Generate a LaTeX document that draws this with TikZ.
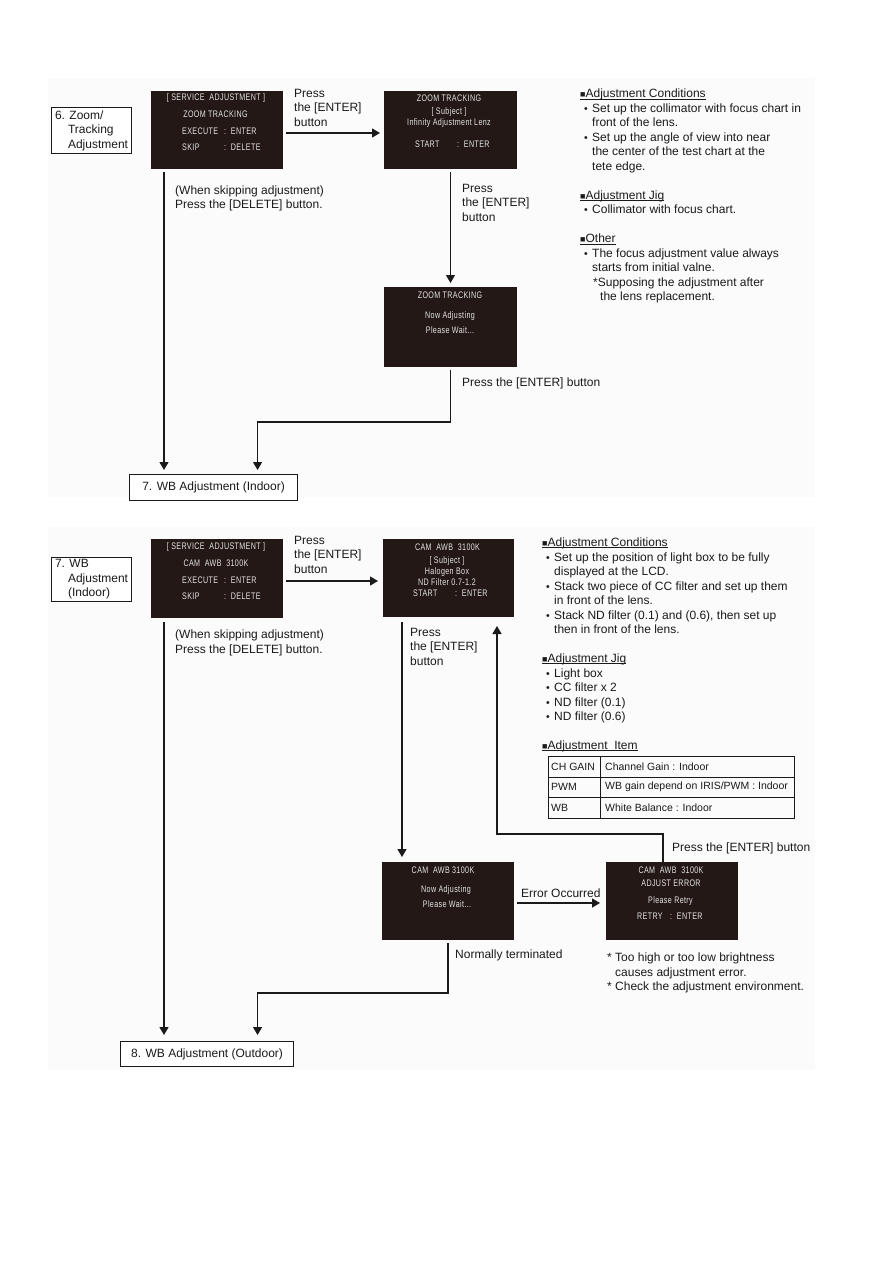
\documentclass[tikz,border=0pt]{standalone}
\usepackage{fontspec}
\setmainfont{Liberation Sans}
\newfontfamily\lcdfont[FakeStretch=0.75,LetterSpace=4]{Liberation Sans}
\usetikzlibrary{arrows.meta}
\definecolor{lcdbg}{HTML}{231815}
\definecolor{lcdfg}{HTML}{E4E4E4}
\definecolor{ink}{HTML}{1A1A1A}
\definecolor{panel}{HTML}{FBFBFB}
\newcommand{\mybul}{\hspace*{4pt}\makebox[8pt][l]{\fontsize{10.5}{10}\selectfont•}}
\newcommand{\mycont}{\hspace*{12pt}}
\newcommand{\myhead}[1]{\setbox0\hbox{{\fontsize{9}{9}\selectfont■}#1}\rlap{\rule[-1.6pt]{\wd0}{0.7pt}}\box0}
\begin{document}
\begin{tikzpicture}[x=1pt,y=-1pt,
  screen/.style={fill=lcdbg,draw=none,inner sep=0pt,outer sep=0pt,anchor=north west,minimum width=132pt,minimum height=78pt},
  lcdtxt/.style={text=lcdfg,font=\lcdfont\fontsize{9.5}{10}\selectfont,inner sep=0pt},
  lcdkey/.style={lcdtxt,anchor=west},
  txt/.style={font=\fontsize{12}{14.5}\selectfont,inner sep=0pt,anchor=north west,align=left,text=ink},
  box/.style={draw=ink,line width=1.1pt,fill=white,inner sep=0pt,anchor=north west,font=\fontsize{12}{14.5}\selectfont,align=left,text=ink},
  arr/.style={draw=ink,line width=1.3pt,-{Triangle[length=8pt,width=9pt]}},
  tbl/.style={draw=ink,line width=0.8pt},
  tbltxt/.style={font=\fontsize{10.5}{12}\selectfont,inner sep=0pt,anchor=west,text=ink}]
\useasboundingbox (0,0) rectangle (893,1263);
\fill[panel] (48,78) rectangle (815,497);
\fill[panel] (48,527) rectangle (815,1070);

% ---------- top section ----------
\node[box,minimum width=80pt,minimum height=46pt] (b6) at (51,107) {6. Zoom/\\\hspace*{13pt}Tracking\\\hspace*{13pt}Adjustment};

\node[screen] (s1) at (151,91) {};
\node[lcdtxt] (s1a) at (216,98) {[ SERVICE\ \ ADJUSTMENT ]};
\node[lcdtxt] (s1b) at (215.5,114) {ZOOM TRACKING};
\node[lcdkey] (s1c) at (182,131) {EXECUTE};
\node[lcdkey] (s1d) at (224,131) {:\ \ ENTER};
\node[lcdkey] (s1e) at (182,147) {SKIP};
\node[lcdkey] (s1f) at (224,147) {:\ \ DELETE};

\node[screen,minimum width=133pt] (s2) at (384,91) {};
\node[lcdtxt] (s2a) at (449,98) {ZOOM TRACKING};
\node[lcdtxt] (s2b) at (449,112) {[ Subject ]};
\node[lcdtxt] (s2c) at (449,123) {Infinity Adjustment Lenz};
\node[lcdkey] (s2d) at (415,144) {START};
\node[lcdkey] (s2e) at (457,144) {:\ \ ENTER};

\node[screen,minimum width=133pt,minimum height=80pt] (s3) at (384,287) {};
\node[lcdtxt] (s3a) at (450,295) {ZOOM TRACKING};
\node[lcdtxt] (s3b) at (450,316) {Now Adjusting};
\node[lcdtxt] (s3c) at (450,330) {Please Wait...};

\node[box,minimum width=168pt,minimum height=26pt,align=center] (b7) at (129,474) {7. WB Adjustment (Indoor)};

\node[txt] (l2) at (294,88.6) {Press\\the [ENTER]\\button};
\node[txt] (l1) at (175,185.6) {(When skipping adjustment)\\Press the [DELETE] button.};
\node[txt] (l3) at (462,183.6) {Press\\the [ENTER]\\button};
\node[txt] (l4) at (462,377.6) {Press the [ENTER] button};

\node[txt] (tr) at (580,89) {\myhead{Adjustment Conditions}\\
\mybul Set up the collimator with focus chart in\\
\mycont front of the lens.\\
\mybul Set up the angle of view into near\\
\mycont the center of the test chart at the\\
\mycont tete edge.\\[14.5pt]
\myhead{Adjustment Jig}\\
\mybul Collimator with focus chart.\\[14.5pt]
\myhead{Other}\\
\mybul The focus adjustment value always\\
\mycont starts from initial valne.\\
\hspace*{13pt}*Supposing the adjustment after\\
\hspace*{20pt}the lens replacement.};

\draw[arr,shorten <=3pt,shorten >=4pt] ([yshift=-3pt]s1.east) -- ([yshift=-3pt]s1.east -| s2.west);
\draw[arr,shorten <=3pt,shorten >=4pt] (s2.south) -- (s3.north);
\coordinate (k1) at (450.5,422);
\draw[arr,shorten >=4pt] ([yshift=-3pt]s3.south) -- (k1) -| ([xshift=44pt]b7.north);
\draw[arr,shorten <=3pt,shorten >=4pt] ([xshift=13pt]s1.south west) -- ([xshift=13pt]s1.south west |- b7.north);

% ---------- bottom section ----------
\node[box,minimum width=80pt,minimum height=44pt] (b7l) at (51,557) {7. WB\\\hspace*{13pt}Adjustment\\\hspace*{13pt}(Indoor)};

\node[screen,minimum height=79pt] (s4) at (151,539) {};
\node[lcdtxt] (s4a) at (216,547) {[ SERVICE\ \ ADJUSTMENT ]};
\node[lcdtxt] (s4b) at (216,563) {CAM\ \ AWB\ \ 3100K};
\node[lcdkey] (s4c) at (182,580) {EXECUTE};
\node[lcdkey] (s4d) at (224,580) {:\ \ ENTER};
\node[lcdkey] (s4e) at (182,596) {SKIP};
\node[lcdkey] (s4f) at (224,596) {:\ \ DELETE};

\node[screen,minimum width=131pt] (s5) at (383,539) {};
\node[lcdtxt] (s5a) at (447.5,547) {CAM\ \ AWB\ \ 3100K};
\node[lcdtxt] (s5b) at (447,561) {[ Subject ]};
\node[lcdtxt] (s5c) at (447,572) {Halogen Box};
\node[lcdtxt] (s5d) at (447,582) {ND Filter 0.7-1.2};
\node[lcdkey] (s5e) at (413,593) {START};
\node[lcdkey] (s5f) at (455,593) {:\ \ ENTER};

\node[screen] (s6) at (382,862) {};
\node[lcdtxt] (s6a) at (443,870) {CAM\ \ AWB 3100K};
\node[lcdtxt] (s6b) at (446,890) {Now Adjusting};
\node[lcdtxt] (s6c) at (447,904) {Please Wait...};

\node[screen] (s7) at (606,862) {};
\node[lcdtxt] (s7a) at (671,870) {CAM\ \ AWB\ \ 3100K};
\node[lcdtxt] (s7b) at (671,883) {ADJUST ERROR};
\node[lcdtxt] (s7c) at (670.5,901) {Please Retry};
\node[lcdkey] (s7d) at (637,916) {RETRY};
\node[lcdkey] (s7e) at (670,916) {:\ \ ENTER};

\node[box,minimum width=173pt,minimum height=25pt,align=center] (b8) at (120,1041) {8. WB Adjustment (Outdoor)};

\node[txt] (l6) at (294,535.6) {Press\\the [ENTER]\\button};
\node[txt] (l5) at (175,629.6) {(When skipping adjustment)\\Press the [DELETE] button.};
\node[txt] (l7) at (410,627.6) {Press\\the [ENTER]\\button};
\node[txt] (l8) at (672,842.6) {Press the [ENTER] button};
\node[txt] (l9) at (521,888.6) {Error Occurred};
\node[txt] (l10) at (455,949.6) {Normally terminated};
\node[txt] (l11) at (607,952.6) {* Too high or too low brightness\\\hspace*{8pt}causes adjustment error.\\* Check the adjustment environment.};

\node[txt] (br) at (542,537.6) {\myhead{Adjustment Conditions}\\
\mybul Set up the position of light box to be fully\\
\mycont displayed at the LCD.\\
\mybul Stack two piece of CC filter and set up them\\
\mycont in front of the lens.\\
\mybul Stack ND filter (0.1) and (0.6), then set up\\
\mycont then in front of the lens.\\[14.5pt]
\myhead{Adjustment Jig}\\
\mybul Light box\\
\mybul CC filter x 2\\
\mybul ND filter (0.1)\\
\mybul ND filter (0.6)\\[14.5pt]
\myhead{Adjustment\ \ Item}};

% table
\draw[tbl] (548,756) rectangle (794,818);
\draw[tbl] (548,777) -- (794,777);
\draw[tbl] (548,797) -- (794,797);
\draw[tbl] (600,756) -- (600,818);
\node[tbltxt] (t11) at (551,767) {CH GAIN};
\node[tbltxt] (t12) at (605,767) {Channel Gain : Indoor};
\node[tbltxt] (t21) at (551,787) {PWM};
\node[tbltxt] (t22) at (605,787) {WB gain depend on IRIS/PWM : Indoor};
\node[tbltxt] (t31) at (551,808) {WB};
\node[tbltxt] (t32) at (605,808) {White Balance : Indoor};

\draw[arr,shorten <=3pt,shorten >=5pt] ([yshift=-2.5pt]s4.east) -- ([yshift=-2.5pt]s4.east -| s5.west);
\draw[arr,shorten <=5pt,shorten >=5pt] ([xshift=19pt]s5.south west) -- ([xshift=19pt]s5.south west |- s6.north);
\coordinate (k2) at (663,834);
\draw[arr,shorten >=9pt] ([xshift=-9pt]s7.north) -- (k2) -| ([xshift=48.5pt]s5.south);
\draw[arr,shorten <=3pt,shorten >=6pt] ([yshift=-2pt]s6.east) -- ([yshift=-2pt]s6.east -| s7.west);
\coordinate (k3) at (448,993);
\draw[arr,shorten >=6pt] ([yshift=-3pt]s6.south) -- (k3) -| ([xshift=50.5pt]b8.north);
\draw[arr,shorten <=4pt,shorten >=6pt] ([xshift=13pt]s4.south west) -- ([xshift=13pt]s4.south west |- b8.north);
\end{tikzpicture}
\end{document}
